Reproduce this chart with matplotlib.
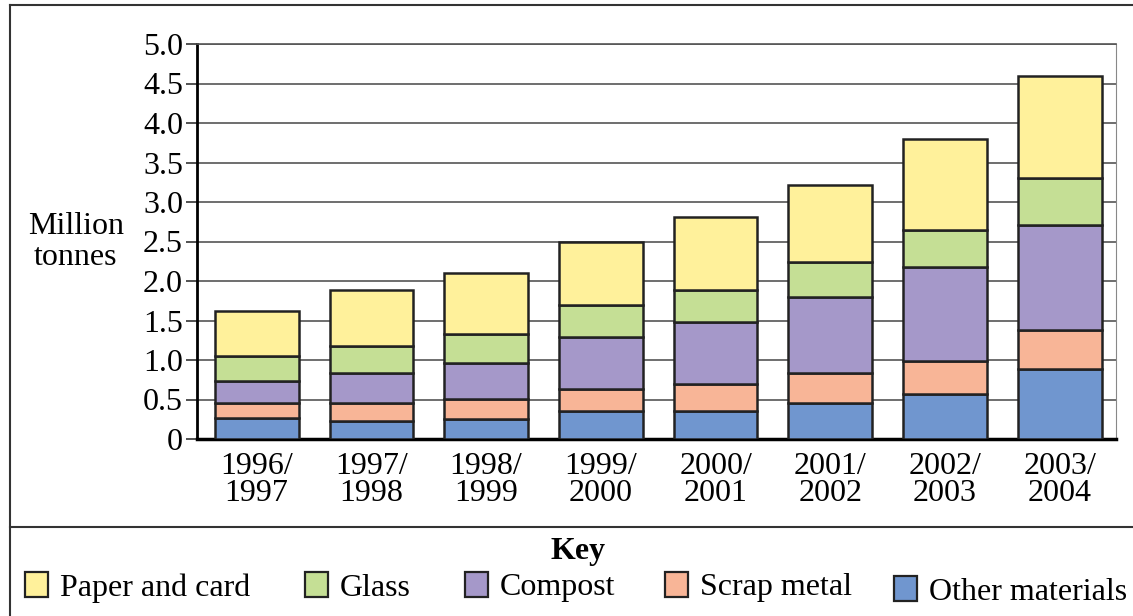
import matplotlib
matplotlib.use('Agg')
import matplotlib.pyplot as plt
import numpy as np
from matplotlib.lines import Line2D
from matplotlib.patches import Rectangle

years = ['1996/\n1997', '1997/\n1998', '1998/\n1999', '1999/\n2000',
         '2000/\n2001', '2001/\n2002', '2002/\n2003', '2003/\n2004']
other = [0.26, 0.23, 0.25, 0.36, 0.36, 0.46, 0.57, 0.89]
scrap = [0.20, 0.23, 0.26, 0.27, 0.34, 0.38, 0.42, 0.49]
compost = [0.27, 0.37, 0.45, 0.66, 0.78, 0.96, 1.19, 1.33]
glass = [0.32, 0.35, 0.37, 0.41, 0.41, 0.44, 0.47, 0.59]
paper = [0.57, 0.71, 0.77, 0.79, 0.92, 0.98, 1.15, 1.29]

names = ['Other materials', 'Scrap metal', 'Compost', 'Glass', 'Paper and card']
colors = ['#7096CF', '#F8B597', '#A598C9', '#C5DF95', '#FFF19B']
series = [other, scrap, compost, glass, paper]

plt.rcParams['font.family'] = ['Liberation Serif', 'DejaVu Serif']
fs = 23

fig = plt.figure(figsize=(11.33, 6.16), dpi=100)
ax = fig.add_axes([197/1133, 1-439/616, (1116-197)/1133, (439-44)/616])

x = np.arange(len(years))
bottom = np.zeros(len(years))
for vals, col, name in zip(series, colors, names):
    ax.bar(x, vals, width=0.73, bottom=bottom, color=col, edgecolor='#222222',
           linewidth=1.8, zorder=3, label=name)
    bottom += np.array(vals)

ax.set_ylim(0, 5.0)
ax.set_xlim(-0.52, 7.49)
ax.set_yticks(np.arange(0, 5.01, 0.5))
ax.set_yticklabels(['0'] + ['%.1f' % v for v in np.arange(0.5, 5.01, 0.5)])
ax.set_xticks(x)
ax.set_xticklabels(years, linespacing=0.95)
ax.tick_params(axis='y', length=8, width=1.2, pad=2, labelsize=fs, color='#333333')
ax.tick_params(axis='x', length=0, pad=9, labelsize=fs)
ax.yaxis.grid(True, color='#555555', linewidth=1.2, zorder=0)
ax.set_axisbelow(True)
ax.spines['left'].set_linewidth(2)
ax.spines['bottom'].set_linewidth(2.5)
ax.spines['right'].set_color('#888888')
ax.spines['top'].set_color('#555555')
ax.spines['top'].set_linewidth(1.2)

fig.text(76/1133, 1-242/616, 'Million\ntonnes', ha='center', va='center',
         fontsize=fs, linespacing=1.05)

# outer frame and key separator
fc = '#333333'
fig.add_artist(Line2D([10/1133, 10/1133], [0, 1-5/616], color=fc, lw=1.5))
fig.add_artist(Line2D([10/1133, 1], [1-5/616, 1-5/616], color=fc, lw=1.5))
fig.add_artist(Line2D([10/1133, 1], [1-527/616, 1-527/616], color=fc, lw=1.5))

# key
fig.text(578/1133, 1-552/616, 'Key', ha='center', va='center',
         fontsize=fs, fontweight='bold')
key_x = [25, 305, 465, 665, 894]
key_y = [585, 585, 585, 585, 589]
for kx, ky, name, col in zip(key_x, key_y, names[::-1], colors[::-1]):
    fig.add_artist(Rectangle((kx/1133, 1-(ky+12)/616), 23/1133, 25/616,
                             facecolor=col, edgecolor='#222222', lw=1.6))
    fig.text((kx+35)/1133, 1-(ky+3)/616, name, ha='left', va='center', fontsize=fs)

fig.savefig('out.png', dpi=100)
